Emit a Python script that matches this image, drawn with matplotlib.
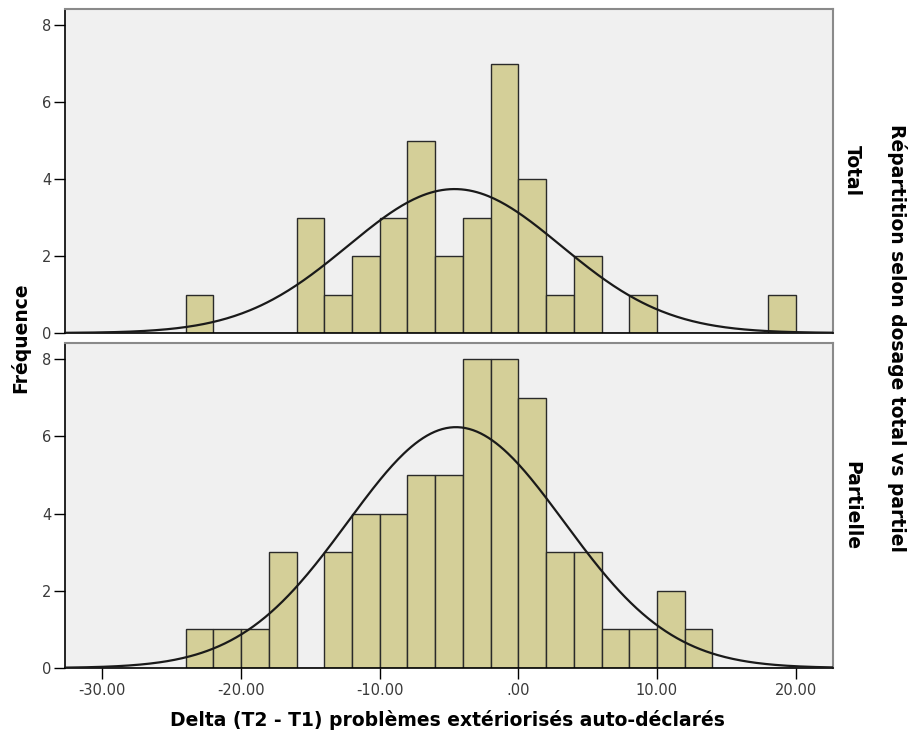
import matplotlib.pyplot as plt
import numpy as np

# histogram bins (width 2) and counts per group
bin_edges = np.arange(-24, 22, 2)
total_counts = [1, 0, 0, 0, 3, 1, 2, 3, 5, 2, 3, 7, 4, 1, 2, 0, 1, 0, 0, 0, 0, 1]
partielle_counts = [1, 1, 1, 3, 0, 3, 4, 4, 5, 5, 8, 8, 7, 3, 3, 1, 1, 2, 1, 0, 0, 0]

# normal curve parameters (mean, sd) per group
total_mean, total_sd = -4.6, 7.68
partielle_mean, partielle_sd = -4.5, 7.80

row_labels = ["Total", "Partielle"]
x_ticks = [-30, -20, -10, 0, 10, 20]
x_tick_labels = ["-30.00", "-20.00", "-10.00", ".00", "10.00", "20.00"]
y_ticks = [0, 2, 4, 6, 8]

bar_color = "#D4CF98"
bg_color = "#F0F0F0"

fig = plt.figure(figsize=(9.13, 7.38), dpi=100)
ax_top = fig.add_axes([0.0712, 0.5488, 0.8412, 0.4390])
ax_bot = fig.add_axes([0.0712, 0.0949, 0.8412, 0.4403])

groups = [
    (ax_top, total_counts, total_mean, total_sd),
    (ax_bot, partielle_counts, partielle_mean, partielle_sd),
]

xs = np.linspace(-32.7, 22.7, 400)
for ax, counts, mu, sd in groups:
    ax.set_facecolor(bg_color)
    ax.bar(bin_edges[:-1], counts, width=2, align="edge", color=bar_color,
           edgecolor="#2a2a2a", linewidth=1.0, zorder=2)
    n = sum(counts)
    curve = n * 2 / (sd * np.sqrt(2 * np.pi)) * np.exp(-(xs - mu) ** 2 / (2 * sd ** 2))
    ax.plot(xs, curve, color="#1a1a1a", linewidth=1.6, zorder=3)
    ax.set_xlim(-32.7, 22.7)
    ax.set_ylim(0, 8.42)
    ax.set_yticks(y_ticks)
    ax.tick_params(axis="y", direction="out", length=8, width=1, colors="#000000",
                   labelcolor="#3a3a3a", labelsize=10.5, pad=2)
    for side in ["top", "right"]:
        ax.spines[side].set_color("#8a8a8a")
        ax.spines[side].set_linewidth(1.5)
    for side in ["left", "bottom"]:
        ax.spines[side].set_color("#000000")
        ax.spines[side].set_linewidth(1.2)

ax_top.set_xticks([])
ax_bot.set_xticks(x_ticks)
ax_bot.set_xticklabels(x_tick_labels)
ax_bot.tick_params(axis="x", direction="out", length=8, width=1, colors="#000000",
                   labelcolor="#3a3a3a", labelsize=10.5, pad=3)

# row labels on the right
for ax, label in zip([ax_top, ax_bot], row_labels):
    ax.text(1.025, 0.5, label, transform=ax.transAxes, rotation=-90,
            ha="center", va="center", fontsize=13.5, fontweight="bold")

fig.text(0.983, 0.542, "Répartition selon dosage total vs partiel", rotation=-90,
         ha="center", va="center", fontsize=13.5, fontweight="bold")
fig.text(0.022, 0.542, "Fréquence", rotation=90, ha="center", va="center",
         fontsize=13.5, fontweight="bold")
fig.text(0.490, 0.024, "Delta (T2 - T1) problèmes extériorisés auto-déclarés",
         ha="center", va="center", fontsize=13.5, fontweight="bold")

fig.savefig("out.png", dpi=100)
